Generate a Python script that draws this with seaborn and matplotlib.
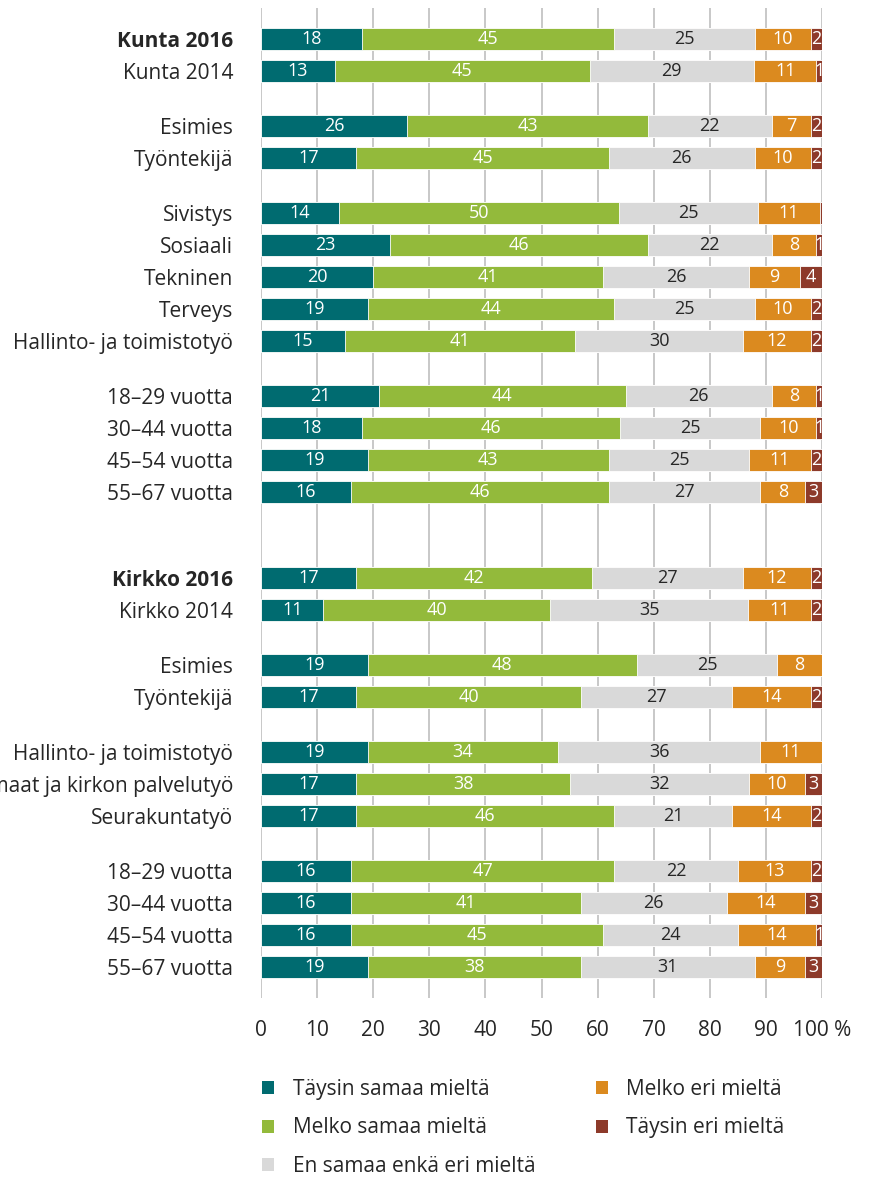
import numpy as np
import pandas as pd
import matplotlib
matplotlib.use("Agg")
import matplotlib.pyplot as plt
from matplotlib.patches import Patch
import seaborn as sns

sns.set_theme(style="white")
plt.rcParams['font.family'] = ['Open Sans', 'DejaVu Sans']

# ---------------- data ----------------
groups = [
    ["Kunta 2016", "Kunta 2014"],
    ["Esimies", "Työntekijä"],
    ["Sivistys", "Sosiaali", "Tekninen", "Terveys", "Hallinto- ja toimistotyö"],
    ["18–29 vuotta", "30–44 vuotta", "45–54 vuotta", "55–67 vuotta"],
    ["Kirkko 2016", "Kirkko 2014"],
    ["Esimies", "Työntekijä"],
    ["Hallinto- ja toimistotyö", "Hautausmaat ja kirkon palvelutyö", "Seurakuntatyö"],
    ["18–29 vuotta", "30–44 vuotta", "45–54 vuotta", "55–67 vuotta"],
]
bold_labels = ["Kunta 2016", "Kirkko 2016"]

series_names = ["Täysin samaa mieltä", "Melko samaa mieltä", "En samaa enkä eri mieltä",
                "Melko eri mieltä", "Täysin eri mieltä"]

taysin_samaa = [18, 13, 26, 17, 14, 23, 20, 19, 15, 21, 18, 19, 16,
                17, 11, 19, 17, 19, 17, 17, 16, 16, 16, 19]
melko_samaa  = [45, 45, 43, 45, 50, 46, 41, 44, 41, 44, 46, 43, 46,
                42, 40, 48, 40, 34, 38, 46, 47, 41, 45, 38]
en_samaa     = [25, 29, 22, 26, 25, 22, 26, 25, 30, 26, 25, 25, 27,
                27, 35, 25, 27, 36, 32, 21, 22, 26, 24, 31]
melko_eri    = [10, 11, 7, 10, 11, 8, 9, 10, 12, 8, 10, 11, 8,
                12, 11, 8, 14, 11, 10, 14, 13, 14, 14, 9]
taysin_eri   = [2, 1, 2, 2, 0.4, 1, 4, 2, 2, 1, 1, 2, 3,
                2, 2, 0, 2, 0, 3, 2, 2, 3, 1, 3]

x_ticks = [0, 10, 20, 30, 40, 50, 60, 70, 80, 90, 100]
x_tick_labels = ["0", "10", "20", "30", "40", "50", "60", "70", "80", "90", "100 %"]

colors = ["#006B70", "#93BA3B", "#D9D9D9", "#DB8A1F", "#8D3A2A"]
text_colors = ["white", "white", "#262626", "white", "white"]

# ---------------- layout positions ----------------
small_gap = 1.72
big_gap = 2.68
positions = []
labels = []
p = 0.0
for gi, g in enumerate(groups):
    if gi > 0:
        p += big_gap if gi == 4 else small_gap
    for j, lab in enumerate(g):
        if j > 0:
            p += 1.0
        positions.append(p)
        labels.append(lab)
positions = np.array(positions)

raw = np.array([taysin_samaa, melko_samaa, en_samaa, melko_eri, taysin_eri], dtype=float).T
vals = raw / raw.sum(axis=1, keepdims=True) * 100
cum = np.cumsum(vals, axis=1)

fig = plt.figure(figsize=(8.73, 11.78), dpi=100)
ax = fig.add_axes([261/873, 1 - 998/1178, (822-261)/873, (998-8)/1178])

for x in x_ticks:
    ax.axvline(x, color="#BFBFBF", lw=1.2, zorder=0)

for k in range(4, -1, -1):
    df = pd.DataFrame({"value": cum[:, k], "pos": positions})
    sns.barplot(data=df, x="value", y="pos", orient="h", native_scale=True,
                color=colors[k], width=0.7, edgecolor="white", linewidth=0.6,
                saturation=1, ax=ax, zorder=2)

for i in range(len(positions)):
    for k in range(5):
        if raw[i, k] >= 0.5:
            xc = cum[i, k] - vals[i, k] / 2
            ax.text(xc, positions[i], f"{int(round(raw[i, k]))}", ha="center", va="center",
                    color=text_colors[k], fontsize=13, zorder=5)

ax.set_xlim(0, 100)
ax.set_ylim(positions[-1] + 0.97, positions[0] - 0.97)
ax.set_yticks(positions)
ax.set_yticklabels(labels)
for t in ax.get_yticklabels():
    if t.get_text() in bold_labels:
        t.set_fontweight("bold")
ax.set_xticks(x_ticks)
ax.set_xticklabels(x_tick_labels)
ax.tick_params(axis="y", length=0, pad=20, labelsize=15, labelcolor="#262626")
ax.tick_params(axis="x", length=0, pad=16, labelsize=15, labelcolor="#262626")
ax.set_xlabel("")
ax.set_ylabel("")
for s in ax.spines.values():
    s.set_visible(False)
ax.grid(False)

handles = [Patch(facecolor=c, edgecolor="none") for c in colors]
fig.legend(handles, series_names, ncol=2, loc="upper left",
           bbox_to_anchor=(243/873, 1 - 1060/1178), frameon=False,
           fontsize=15, handlelength=0.58, handleheight=0.58, handletextpad=0.9,
           columnspacing=2.9, labelspacing=0.85, labelcolor="#262626")

fig.savefig("out.png", dpi=100)
